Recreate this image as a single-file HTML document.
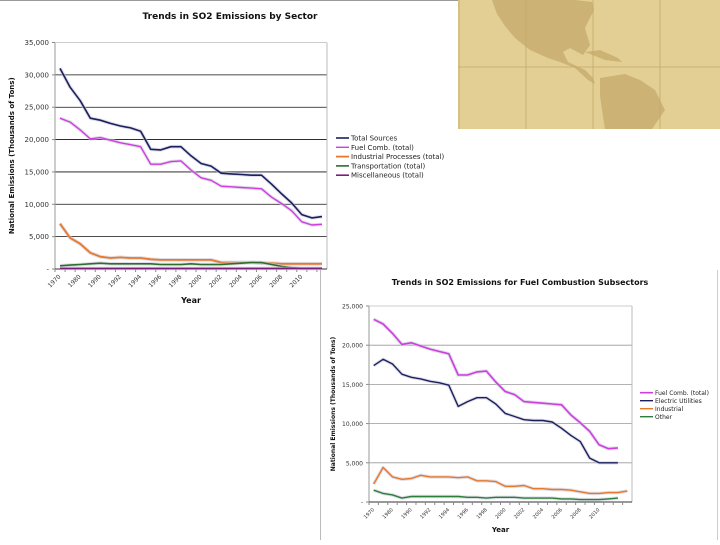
<!DOCTYPE html>
<html><head><meta charset="utf-8"><style>
body{margin:0;width:720px;height:540px;overflow:hidden;background:#fff;font-family:"Liberation Sans",sans-serif}
svg text{font-family:"DejaVu Sans","Liberation Sans",sans-serif}
</style></head><body>
<svg id="s" width="720" height="540" viewBox="0 0 720 540" xmlns="http://www.w3.org/2000/svg">
  <g>
    <rect x="458" y="0" width="262" height="129" fill="#e3cf93"/>
    <path d="M492,0 L540,0 L575,0 L592,2 L594,10 L585,28 L590,45 L583,55 L570,48 L563,52 L568,62 L585,70 L593,78 L595,84 L588,80 L575,68 L560,62 L548,58 L530,50 L515,38 L505,26 L497,14 Z" fill="#ccb274"/>
    <path d="M600,78 L625,74 L640,80 L655,90 L665,110 L652,129 L605,129 L602,110 L600,96 Z" fill="#ccb274"/>
    <path d="M585,52 L600,50 L618,58 L622,62 L605,60 Z" fill="#ccb274"/>
    <g stroke="#c2a86a" stroke-width="0.8">
      <line x1="526" y1="0" x2="526" y2="129"/><line x1="593" y1="0" x2="593" y2="129"/><line x1="660" y1="0" x2="660" y2="129"/>
      <line x1="458" y1="67" x2="720" y2="67"/><line x1="459" y1="0" x2="459" y2="129"/>
    </g>
  </g>
  <line x1="0" y1="0.5" x2="458" y2="0.5" stroke="#999"/>
  <line x1="320.5" y1="268" x2="320.5" y2="540" stroke="#bbb"/>
  <line x1="717.5" y1="270" x2="717.5" y2="540" stroke="#ccc"/>
  <g id="c1"></g>
  <g id="c2"></g>
</svg>
<script>
const cats1 = ['1970','1975','1980','1985','1990','1991','1992','1993','1994','1995','1996','1997','1998','1999','2000','2001','2002','2003','2004','2005','2006','2007','2008','2009','2010','2011','2012'];
const cats2 = ['1970','1975','1980','1985','1990','1991','1992','1993','1994','1995','1996','1997','1998','1999','2000','2001','2002','2003','2004','2005','2006','2007','2008','2009','2010','2011','2012','2013'];
const yTicks1 = ['','5,000','10,000','15,000','20,000','25,000','30,000','35,000'];
const yTicks2 = ['','5,000','10,000','15,000','20,000','25,000'];
const totalSources = [31000,28100,26000,23300,23000,22500,22100,21800,21300,18500,18400,18900,18900,17500,16300,15900,14800,14700,14600,14500,14500,13100,11600,10200,8400,7900,8100];
const fuelComb = [23300,22700,21500,20100,20300,19900,19500,19200,18900,16200,16200,16600,16700,15300,14100,13700,12800,12700,12600,12500,12400,11100,10100,9000,7300,6800,6900];
const industrialProc = [7000,4800,3900,2500,1900,1700,1800,1700,1700,1500,1400,1400,1400,1400,1400,1400,1000,1000,1000,1000,900,900,800,800,800,800,800];
const transportation = [500,600,700,800,900,800,800,800,800,800,700,700,700,800,700,700,700,800,900,1000,1000,700,400,200,100,100,100];
const miscellaneous = [100,100,100,100,100,100,100,100,100,100,100,100,100,100,100,100,100,100,100,100,100,100,100,100,100,100,100];
const electricUtil = [17400,18200,17600,16300,15900,15700,15400,15200,14900,12200,12800,13300,13300,12500,11300,10900,10500,10400,10400,10200,9400,8500,7700,5600,5000,5000,5000];
const industrialFuel = [2300,4400,3200,2900,3000,3400,3200,3200,3200,3100,3200,2700,2700,2600,2000,2000,2100,1700,1700,1600,1600,1500,1300,1100,1100,1200,1200,1400];
const otherFuel = [1500,1100,900,500,700,700,700,700,700,700,600,600,500,600,600,600,500,500,500,500,400,400,300,300,300,400,500];

const NS='http://www.w3.org/2000/svg';
function mk(p,tag,attrs,txt){const e=document.createElementNS(NS,tag);for(const k in attrs)e.setAttribute(k,attrs[k]);if(txt!==undefined)e.textContent=txt;p.appendChild(e);return e;}

function chart(g,cfg){
  const {L,R,T,B,ymax,cats,ticks,grid,series,title,tx,ty,ytX,xtY,legX,legY,legDy,fs,maxLab}=cfg;
  const band=(R-L)/cats.length;
  const xs=i=>L+(i+0.5)*band;
  const ys=v=>B-(v/ymax)*(B-T);
  const t=mk(g,'text',{x:tx,y:ty,'text-anchor':'middle','font-size':fs+1,'font-weight':'bold',fill:'#111'},title);
  
  
  const step=ymax/(ticks.length-1);
  ticks.forEach((lab,k)=>{
    const y=ys(k*step);
    if(k>0){const gl=mk(g,'line',{x1:L,x2:R,y1:y,y2:y,stroke:grid,'stroke-width':0.8});
      
      }
    mk(g,'line',{x1:L-3,x2:L,y1:y,y2:y,stroke:'#888'});
    const tl=mk(g,'text',{x:L-6,y:y+2.5,'text-anchor':'end','font-size':fs-1,fill:'#333'},lab===''?'-':lab);
    
    
  });
  mk(g,'line',{x1:L,x2:L,y1:T,y2:B,stroke:'#999'});
  mk(g,'line',{x1:R,x2:R,y1:T,y2:B,stroke:'#bbb'});
  mk(g,'line',{x1:L,x2:R,y1:B,y2:B,stroke:'#333'});
  mk(g,'line',{x1:L,x2:R,y1:T,y2:T,stroke:'#ccc'});
  cats.forEach((c,i)=>{
    mk(g,'line',{x1:L+i*band,x2:L+i*band,y1:B,y2:B+3,stroke:'#888'});
    if(i%2===0 && i<=maxLab){const x=L+i*band+band*0.6,y=B+8;
      const xl=mk(g,'text',{x:x,y:y,'text-anchor':'end','font-size':fs-2,fill:'#333',transform:`rotate(-45 ${x} ${y})`},c);
      
      }
  });
  const xt=mk(g,'text',{x:(L+R)/2,y:xtY,'text-anchor':'middle','font-size':fs,'font-weight':'bold',fill:'#111'},'Year');
  
  
  const yc=(T+B)/2;
  const yt=mk(g,'text',{x:ytX,y:yc,'text-anchor':'middle','font-size':fs-1,'font-weight':'bold',fill:'#111',transform:`rotate(-90 ${ytX} ${yc})`},'National Emissions (Thousands of Tons)');
  
  
  series.forEach((s,si)=>{
    const d=s.data.map((v,i)=>(i?'L':'M')+xs(i).toFixed(1)+','+ys(v).toFixed(1)).join(' ');
    mk(g,'path',{d:d,fill:'none',stroke:'#c8c8d8','stroke-width':s.w+2,'stroke-linejoin':'round',opacity:0.6});
    const p=mk(g,'path',{d:d,fill:'none',stroke:s.color,'stroke-width':s.w,'stroke-linejoin':'round'});
    
    
    const ly=legY+si*legDy;
    const lg=mk(g,'g',{});
    
    
    mk(lg,'line',{x1:legX,x2:legX+13,y1:ly,y2:ly,stroke:s.color,'stroke-width':s.w});
    mk(lg,'text',{x:legX+15,y:ly+2.5,'font-size':fs-1,fill:'#222'},s.name);
  });
}
chart(document.getElementById('c1'),{L:55,R:327,T:42.5,B:269,ymax:35000,cats:cats1,ticks:yTicks1,grid:'#111',maxLab:24,
  title:'Trends in SO2 Emissions by Sector',tx:230,ty:19,ytX:14,xtY:303,legX:336,legY:138,legDy:9.3,fs:8,
  series:[{key:'total-sources',name:'Total  Sources',color:'#1c1f5e',data:totalSources,w:1.6},
          {key:'fuel-comb-total',name:'Fuel Comb. (total)',color:'#d13ce0',data:fuelComb,w:1.4},
          {key:'industrial-processes',name:'Industrial Processes (total)',color:'#e8782a',data:industrialProc,w:1.8},
          {key:'transportation',name:'Transportation (total)',color:'#2d6e2d',data:transportation,w:1.6},
          {key:'miscellaneous',name:'Miscellaneous (total)',color:'#7a1f78',data:miscellaneous,w:1.6}]});
chart(document.getElementById('c2'),{L:369,R:632,T:306,B:502,ymax:25000,cats:cats2,ticks:yTicks2,grid:'#999',maxLab:24,
  title:'Trends in SO2 Emissions for Fuel Combustion Subsectors',tx:520,ty:285,ytX:335,xtY:532,legX:640,legY:392.7,legDy:8,fs:7,
  series:[{key:'fuel-comb-total',name:'Fuel Comb. (total)',color:'#d13ce0',data:fuelComb,w:1.6},
          {key:'electric-utilities',name:'Electric Utilities',color:'#1c1f5e',data:electricUtil,w:1.4},
          {key:'industrial',name:'Industrial',color:'#e8782a',data:industrialFuel,w:1.4},
          {key:'other',name:'Other',color:'#2d7e3a',data:otherFuel,w:1.4}]});
</script>
</body></html>
